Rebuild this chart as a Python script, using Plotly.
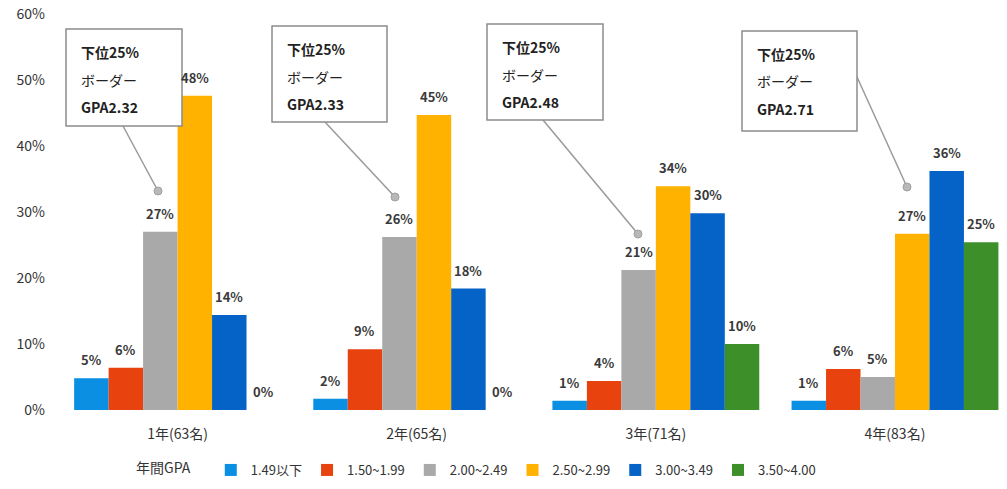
import plotly.graph_objects as go

# ---- data ----
categories = ["1年(63名)", "2年(65名)", "3年(71名)", "4年(83名)"]
series_names = ["1.49以下", "1.50~1.99", "2.00~2.49", "2.50~2.99", "3.00~3.49", "3.50~4.00"]
gpa_under_149 = [4.8, 1.7, 1.4, 1.4]
gpa_150_199 = [6.4, 9.2, 4.4, 6.2]
gpa_200_249 = [27.0, 26.2, 21.2, 5.0]
gpa_250_299 = [47.6, 44.7, 33.9, 26.7]
gpa_300_349 = [14.4, 18.4, 29.8, 36.2]
gpa_350_400 = [0.0, 0.0, 10.0, 25.4]
border_gpa = ["GPA2.32", "GPA2.33", "GPA2.48", "GPA2.71"]
y_ticks = [0, 10, 20, 30, 40, 50, 60]

series_values = [gpa_under_149, gpa_150_199, gpa_200_249, gpa_250_299, gpa_300_349, gpa_350_400]
colors = ["#0b8fe2", "#e8420f", "#a9a9a9", "#ffb300", "#0562c6", "#3d8f2a"]

FONT = "Noto Sans CJK JP"
TXT = "#333333"

# ---- layout geometry (pixels of the 1007x489 canvas) ----
W, H = 1007, 489
L, R, T, B = 58, 2, 14, 79
pw, ph = W - L - R, H - T - B
X_RANGE = [-0.5, 3.46]
BARGAP = 0.135
px_per_cat = pw / (X_RANGE[1] - X_RANGE[0])
bar_px = px_per_cat * (1 - BARGAP) / len(series_values)

def px(xp):
    return (xp - L) / pw

def py(yp):
    return (H - B - yp) / ph

fig = go.Figure()
annotations = []
n = len(series_values)
for k, (name, vals, col) in enumerate(zip(series_names, series_values, colors)):
    fig.add_trace(go.Bar(
        x=categories, y=vals, name=name, marker=dict(color=col, line=dict(width=0)),
    ))
    for c, v in zip(categories, vals):
        annotations.append(dict(
            x=c, y=v, xref="x", yref="y", xshift=(k - (n - 1) / 2) * bar_px, yshift=7,
            xanchor="center", yanchor="bottom", showarrow=False, text=f"{v:.0f}%",
            font=dict(family=FONT, size=13, color="#3a3a3a", weight=600)))

# callout boxes: (x0, y0, x1, y1), line start, dot position
callouts = [
    ((66, 29, 182, 126), (123, 126), (158, 191)),
    ((272, 26, 387, 122), (325, 122), (395, 197)),
    ((487, 24, 603, 120), (543, 120), (638, 234)),
    ((742, 31, 857, 131), (857, 77), (907, 187)),
]
shapes = []
for (box, ls, dot), gpa in zip(callouts, border_gpa):
    x0, y0, x1, y1 = box
    shapes.append(dict(type="line", xref="paper", yref="paper",
                       x0=px(ls[0]), y0=py(ls[1]), x1=px(dot[0]), y1=py(dot[1]),
                       line=dict(color="#9a9a9a", width=1.5), layer="above"))
    shapes.append(dict(type="rect", xref="paper", yref="paper",
                       x0=px(x0), y0=py(y0), x1=px(x1), y1=py(y1),
                       line=dict(color="#8c8c8c", width=1.5), fillcolor="white", layer="above"))
    r = 4
    shapes.append(dict(type="circle", xref="paper", yref="paper",
                       x0=px(dot[0] - r), y0=py(dot[1] - r), x1=px(dot[0] + r), y1=py(dot[1] + r),
                       line=dict(color="#a0a0a0", width=1), fillcolor="#b8b8b8", layer="above"))
    for i, t in enumerate(["下位25%", "ボーダー", gpa]):
        annotations.append(dict(xref="paper", yref="paper", x=px(x0 + 13), y=py(y0 + 23 + 27.5 * i),
                                xanchor="left", yanchor="middle", showarrow=False, text=t,
                                font=dict(family=FONT, size=14, color="#222222",
                                          weight=600 if i != 1 else 400)))

fig.update_layout(
    width=W, height=H,
    margin=dict(l=L, r=R, t=T, b=B, autoexpand=False),
    paper_bgcolor="white", plot_bgcolor="white",
    barmode="group", bargap=BARGAP, bargroupgap=0,
    font=dict(family=FONT, color=TXT),
    xaxis=dict(range=X_RANGE, showgrid=False, showline=False, zeroline=False,
               ticks="", tickfont=dict(size=14, color=TXT), ticklabelstandoff=14),
    yaxis=dict(range=[0, 60], tickvals=y_ticks, ticktext=[f"{v}%" for v in y_ticks],
               showgrid=False, showline=False, zeroline=False, ticks="",
               tickfont=dict(size=14, color=TXT), ticklabelstandoff=12),
    legend=dict(orientation="h", x=px(134), xanchor="left", y=py(470), yanchor="middle",
                title=dict(text="年間GPA\u00a0\u00a0\u00a0\u00a0", side="left", font=dict(size=14, color=TXT)),
                font=dict(size=13, color=TXT), itemwidth=30, traceorder="normal",
                tracegroupgap=0, itemclick=False),
    shapes=shapes, annotations=annotations, showlegend=True,
)

fig.write_html("out.html", config={"displayModeBar": False},
               post_script="document.body.style.margin='0';document.body.style.padding='0';")
